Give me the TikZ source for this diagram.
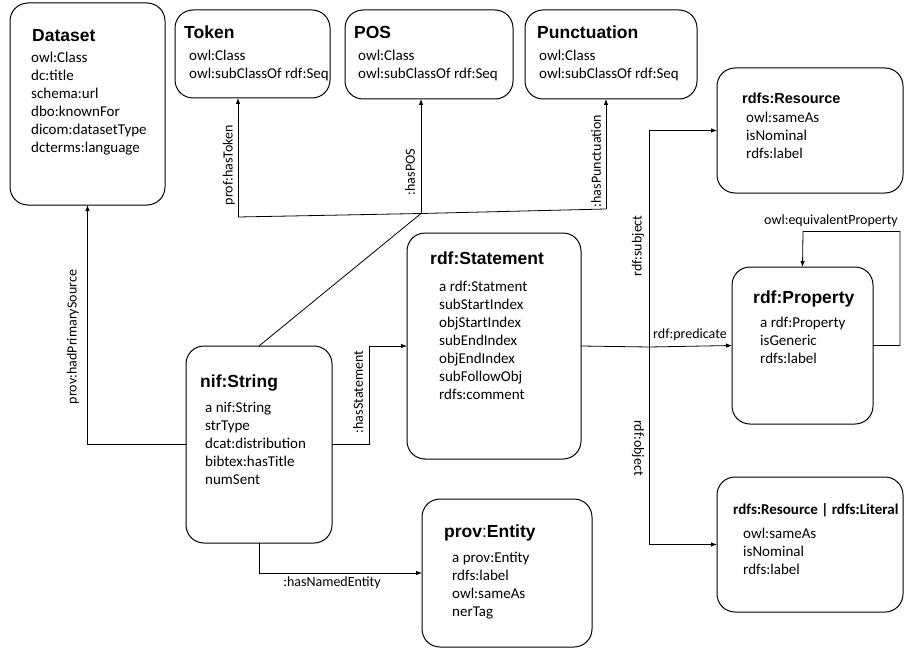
\documentclass[tikz,border=0pt]{standalone}
\usepackage{fontspec}
\setmainfont{Carlito}
\newfontfamily\arialf{Liberation Sans}
\usetikzlibrary{arrows.meta}
\newcommand\mylines[1]{\begin{tabular}[t]{@{}l@{}}#1\end{tabular}}
\begin{document}
\begin{tikzpicture}[x=1pt,y=-1pt,
  box/.style={draw, rounded corners=18pt, line width=1pt, anchor=north west, inner sep=0pt, outer sep=0pt},
  ttl/.style={anchor=base west, inner sep=0pt, font=\arialf\bfseries\fontsize{17.5}{20}\selectfont},
  body/.style={anchor=base west, inner sep=0pt, font=\fontsize{15}{18}\selectfont},
  lbl/.style={inner sep=0pt, font=\fontsize{14}{16}\selectfont},
  conn/.style={line width=0.8pt},
  arr/.style={conn, -{Latex[length=6pt,width=4.5pt]}}
]
\useasboundingbox (0,0) rectangle (904,650);

% boxes
\node[box, minimum width=155pt, minimum height=202pt] (dataset) at (10,3) {};
\node[box, minimum width=155pt, minimum height=88pt] (token) at (175,10) {};
\node[box, minimum width=168pt, minimum height=89pt] (pos) at (345,10) {};
\node[box, minimum width=172pt, minimum height=89pt] (punct) at (525,10) {};
\node[box, minimum width=186pt, minimum height=125pt] (res) at (717,68) {};
\node[box, minimum width=174pt, minimum height=226pt] (stmt) at (407,233) {};
\node[box, minimum width=141pt, minimum height=157pt] (prop) at (732,267) {};
\node[box, minimum width=186pt, minimum height=135pt] (lit) at (717,477) {};
\node[box, minimum width=146pt, minimum height=197pt] (nif) at (186,346) {};
\node[box, minimum width=170pt, minimum height=148pt] (prov) at (422,499) {};

% texts
\node[ttl] (datasetT) at (32,42) {Dataset};
\node[body] (datasetB) at (31,63) {\mylines{owl:Class\\dc:title\\schema:url\\dbo:knownFor\\dicom:datasetType\\dcterms:language}};
\node[ttl] (tokenT) at (184,39) {Token};
\node[body] (tokenB) at (189,61) {\mylines{owl:Class\\owl:subClassOf rdf:Seq}};
\node[ttl] (posT) at (354,39) {POS};
\node[body] (posB) at (358,61) {\mylines{owl:Class\\owl:subClassOf rdf:Seq}};
\node[ttl] (punctT) at (537,39) {Punctuation};
\node[body] (punctB) at (539,61) {\mylines{owl:Class\\owl:subClassOf rdf:Seq}};
\node[ttl, font=\arialf\bfseries\fontsize{14.5}{17}\selectfont] (resT) at (742,103) {rdfs:Resource};
\node[body] (resB) at (746,122) {\mylines{owl:sameAs\\isNominal\\rdfs:label}};
\node[ttl] (stmtT) at (430,264) {rdf:Statement};
\node[body] (stmtB) at (439,291) {\mylines{a rdf:Statment\\subStartIndex\\objStartIndex\\subEndIndex\\objEndIndex\\subFollowObj\\rdfs:comment}};
\node[ttl] (propT) at (753,303) {rdf:Property};
\node[body] (propB) at (760,327) {\mylines{a rdf:Property\\isGeneric\\rdfs:label}};
\node[ttl, font=\bfseries\fontsize{15}{18}\selectfont] (litT) at (733,514) {rdfs:Resource | rdfs:Literal};
\node[body] (litB) at (743,538) {\mylines{owl:sameAs\\isNominal\\rdfs:label}};
\node[ttl] (nifT) at (200,387) {nif:String};
\node[body] (nifB) at (205,412) {\mylines{a nif:String\\strType\\dcat:distribution\\bibtex:hasTitle\\numSent}};
\node[ttl] (provT) at (444,537) {prov{\mdseries :}Entity};
\node[body] (provB) at (452,562) {\mylines{a prov:Entity\\rdfs:label\\owl:sameAs\\nerTag}};

% connector points
\coordinate (jT) at (238,217);
\coordinate (jP) at (421,213.5);
\coordinate (jU) at (606,209);
\coordinate (hub) at (649,347);

% connectors
\draw[conn] (jT) -- (jP) -- (jU);
\draw[arr] (jT) -- (jT |- token.south);
\draw[arr] (jP) -- (jP |- pos.south);
\draw[arr] (jU) -- (jU |- punct.south);
\draw[conn] (nif.north) -- (jP);
\draw[arr] (nif.west) -| (dataset.south);
\draw[arr] (nif.east) -- ++(37,0) |- (stmt.west);
\draw[arr] (nif.south) |- (prov.west);
\draw[conn] (stmt.east) -- (hub);
\draw[arr] (hub) |- (res.west);
\draw[arr] (hub) |- (lit.west);
\draw[arr] (hub) -- (prop.west);
\draw[arr] (prop.east) -- ++(27,0) |- ++(-97,-114) -- (prop.north);

% labels
\node[lbl, rotate=90] (l1) at (229,165) {prof:hasToken};
\node[lbl, rotate=90] (l2) at (410,172) {:hasPOS};
\node[lbl, rotate=90] (l3) at (596,161) {:hasPunctuation};
\node[lbl, rotate=90] (l4) at (638,246) {rdf:subject};
\node[lbl, anchor=base] (l5) at (690,338) {rdf:predicate};
\node[lbl, anchor=base] (l6) at (831,224) {owl:equivalentProperty};
\node[lbl, rotate=-90] (l7) at (638,448) {rdf:object};
\node[lbl, rotate=90] (l8) at (73,337) {prov:hadPrimarySource};
\node[lbl, rotate=90] (l9) at (358,392) {:hasStatement};
\node[lbl] (l10) at (332,583) {:hasNamedEntity};
\end{tikzpicture}
\end{document}
